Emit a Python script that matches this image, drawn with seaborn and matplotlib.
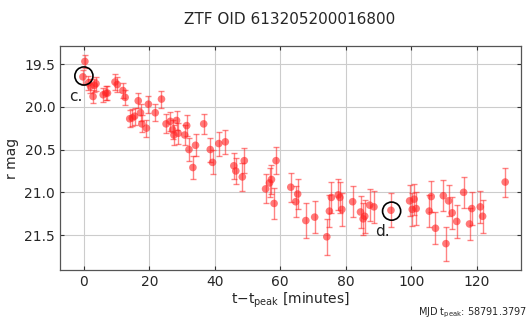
import numpy as np
import pandas as pd
import matplotlib
matplotlib.use("Agg")
import matplotlib.pyplot as plt
import seaborn as sns

t_min = [-0.3, 0.3, 1.4, 2.0, 2.8, 3.2, 3.7, 5.9, 6.7, 7.2, 9.5, 10.2, 11.9, 12.6,
         14.0, 14.8, 15.5, 16.6, 17.3, 17.7, 19.1, 19.7, 21.8, 23.7, 25.1, 26.4,
         27.1, 27.5, 28.3, 28.8, 30.8, 31.4, 32.1, 33.3, 34.1, 36.6, 38.6, 39.3,
         41.2, 43.2, 45.8, 46.4, 48.4, 49.0, 55.5, 56.7, 57.3, 58.1, 58.7, 63.2,
         64.7, 65.3, 67.8, 70.5, 74.2, 75.0, 75.6, 77.7, 78.2, 78.8, 82.1, 84.5,
         85.3, 85.8, 87.3, 88.6, 93.8, 99.5, 100.3, 100.9, 101.5, 105.5, 106.1,
         107.4, 109.8, 110.6, 111.4, 112.5, 113.9, 116.0, 117.8, 118.5, 121.1,
         121.8, 128.7]
r_mag = [19.65, 19.47, 19.72, 19.76, 19.88, 19.75, 19.73, 19.86, 19.84, 19.84, 19.71,
         19.74, 19.81, 19.89, 20.14, 20.13, 20.11, 19.93, 20.07, 20.20, 20.25, 19.97,
         20.07, 19.91, 20.20, 20.17, 20.27, 20.33, 20.16, 20.31, 20.33, 20.22, 20.50,
         20.71, 20.45, 20.20, 20.50, 20.65, 20.43, 20.41, 20.69, 20.75, 20.82, 20.63,
         20.96, 20.89, 20.85, 21.13, 20.63, 20.94, 21.11, 21.02, 21.33, 21.29, 21.52,
         21.22, 21.06, 21.03, 21.06, 21.20, 21.11, 21.23, 21.31, 21.28, 21.15, 21.17,
         21.21, 21.10, 21.20, 21.08, 21.19, 21.22, 21.05, 21.42, 21.04, 21.60, 21.10,
         21.24, 21.34, 21.00, 21.37, 21.19, 21.17, 21.28, 20.88]
r_err = [0.08, 0.08, 0.08, 0.08, 0.08, 0.08, 0.08, 0.08, 0.08, 0.08, 0.09, 0.09, 0.09, 0.09,
         0.10, 0.10, 0.10, 0.09, 0.10, 0.10, 0.10, 0.10, 0.10, 0.10, 0.11, 0.11,
         0.11, 0.12, 0.11, 0.12, 0.12, 0.12, 0.13, 0.14, 0.13, 0.12, 0.14, 0.14,
         0.14, 0.14, 0.15, 0.15, 0.16, 0.15, 0.17, 0.17, 0.17, 0.18, 0.16, 0.17,
         0.18, 0.17, 0.20, 0.19, 0.21, 0.19, 0.18, 0.18, 0.18, 0.19, 0.18, 0.19,
         0.19, 0.19, 0.19, 0.19, 0.20, 0.18, 0.19, 0.18, 0.19, 0.19, 0.18,
         0.19, 0.18, 0.20, 0.18, 0.19, 0.19, 0.18, 0.19, 0.19, 0.19,
         0.19, 0.17]

marked_t = [0.0, 94.0]
marked_mag = [19.64, 21.22]
marked_labels = ["c.", "d."]
label_t = [-2.6, 91.2]
label_mag = [19.88, 21.46]

title = "ZTF OID 613205200016800"
x_ticks = [0, 20, 40, 60, 80, 100, 120]
y_ticks = [19.5, 20.0, 20.5, 21.0, 21.5]

sns.set_style("ticks")
plt.rcParams['font.family'] = ['DejaVu Sans']

df = pd.DataFrame({"t": t_min, "mag": r_mag, "err": r_err})

fig = plt.figure(figsize=(5.31, 3.22), dpi=100)
ax = fig.add_axes([0.113, 0.161, 0.868, 0.696])

red = "#ff2020"
ax.errorbar(df["t"], df["mag"], yerr=df["err"], fmt="none", ecolor=red,
            alpha=0.55, elinewidth=1.0, capsize=2.2, capthick=1.0, zorder=2)
sns.scatterplot(data=df, x="t", y="mag", ax=ax, color=red, alpha=0.6,
                s=30, edgecolor="none", zorder=3, legend=False)

ax.scatter(marked_t, marked_mag, s=170, facecolors="none", edgecolors="black",
           linewidths=1.2, zorder=4)
for lx, ly, lab in zip(label_t, label_mag, marked_labels):
    ax.text(lx, ly, lab, fontsize=11, ha="center", va="center", color="#222222")

ax.set_xlim(-7.3, 133.5)
ax.set_ylim(21.91, 19.29)
ax.set_xticks(x_ticks)
ax.set_yticks(y_ticks)
ax.grid(True, color="#cccccc", linewidth=0.8)
ax.set_axisbelow(True)
ax.tick_params(direction="in", top=True, right=True, length=3, labelsize=10,
               color="#333333")
for sp in ax.spines.values():
    sp.set_color("#555555")
    sp.set_linewidth(0.9)

ax.set_xlabel("t\u2212t$_\\mathregular{peak}$ [minutes]", fontsize=10, labelpad=1)
ax.set_ylabel("r mag", fontsize=10)
fig.text(0.545, 0.94, title, ha="center", va="center", fontsize=11)
fig.text(0.993, 0.028, "MJD t$_\\mathregular{peak}$: 58791.3797", ha="right",
         va="center", fontsize=7)

fig.savefig("out.png", dpi=100)
